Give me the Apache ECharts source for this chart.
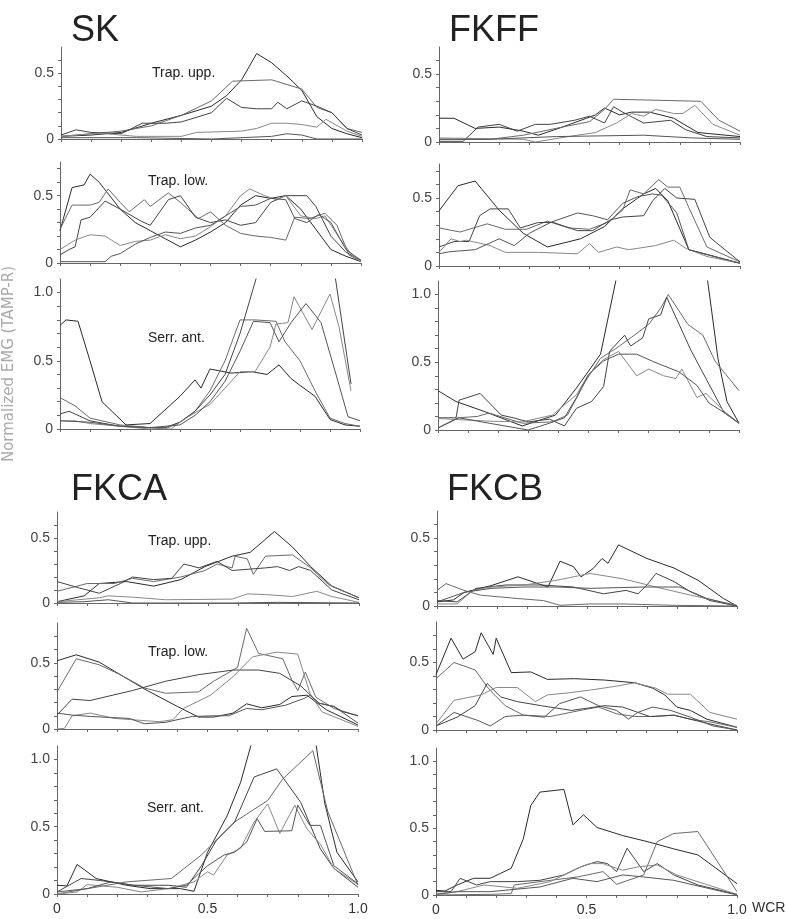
<!DOCTYPE html>
<html>
<head>
<meta charset="utf-8">
<script src="https://cdn.jsdelivr.net/npm/echarts@6/dist/echarts.min.js"></script>
<style>
html,body{margin:0;background:#fff;}
#main{width:786px;height:919px;}
</style>
</head>
<body>
<div id="main"></div>
<script>
// tick labels
const xTickValues = [0, 0.5, 1];
const xTickLabels = ['0', '0.5', '1.0'];
const yTickValues = [0, 0.5, 1];
const yTickLabels = ['0', '0.5', '1.0'];

// SK
const skUpp = [
  [[0,0.02],[0.1,0.03],[0.2,0.05],[0.3,0.12],[0.4,0.18],[0.5,0.25],[0.55,0.33],[0.6,0.45],[0.65,0.65],[0.7,0.58],[0.75,0.48],[0.8,0.37],[0.85,0.17],[0.9,0.08],[0.95,0.04],[1,0.01]],
  [[0,0.02],[0.1,0.04],[0.2,0.06],[0.3,0.1],[0.4,0.18],[0.5,0.29],[0.57,0.44],[0.7,0.45],[0.8,0.38],[0.85,0.24],[0.9,0.2],[0.95,0.08],[1,0.05]],
  [[0,0.03],[0.05,0.07],[0.1,0.05],[0.2,0.04],[0.27,0.12],[0.35,0.12],[0.4,0.13],[0.5,0.2],[0.55,0.31],[0.6,0.24],[0.65,0.23],[0.7,0.23],[0.72,0.28],[0.75,0.23],[0.8,0.29],[0.85,0.25],[0.9,0.2],[0.95,0.08],[1,0.03]],
  [[0,0.02],[0.1,0.04],[0.15,0.04],[0.25,0.02],[0.4,0.02],[0.45,0.05],[0.6,0.06],[0.65,0.08],[0.7,0.12],[0.75,0.12],[0.8,0.11],[0.85,0.09],[0.88,0.15],[0.95,0.06],[1,0.02]],
  [[0,0.01],[0.25,0.01],[0.5,0.0],[0.7,0.02],[0.75,0.04],[0.8,0.03],[0.85,0.0],[1,0.0]]
];
const skLow = [
  [[0,0.24],[0.04,0.56],[0.08,0.58],[0.1,0.66],[0.13,0.6],[0.2,0.4],[0.25,0.3],[0.3,0.24],[0.35,0.18],[0.4,0.12],[0.45,0.17],[0.5,0.23],[0.55,0.3],[0.6,0.43],[0.65,0.5],[0.7,0.48],[0.75,0.5],[0.8,0.4],[0.85,0.25],[0.9,0.1],[0.95,0.05],[1,0.01]],
  [[0,0.25],[0.04,0.43],[0.1,0.43],[0.13,0.45],[0.16,0.55],[0.2,0.45],[0.23,0.38],[0.28,0.47],[0.3,0.42],[0.36,0.52],[0.4,0.45],[0.46,0.33],[0.5,0.38],[0.55,0.28],[0.6,0.22],[0.65,0.2],[0.7,0.19],[0.75,0.17],[0.78,0.34],[0.83,0.33],[0.88,0.37],[0.92,0.28],[0.96,0.06],[1,0.01]],
  [[0,0.06],[0.03,0.1],[0.05,0.12],[0.07,0.32],[0.1,0.34],[0.15,0.46],[0.2,0.4],[0.27,0.31],[0.3,0.28],[0.36,0.47],[0.4,0.5],[0.45,0.34],[0.5,0.3],[0.55,0.32],[0.6,0.28],[0.65,0.3],[0.7,0.45],[0.75,0.5],[0.82,0.5],[0.85,0.42],[0.9,0.2],[0.95,0.08],[1,0.02]],
  [[0,0.1],[0.05,0.17],[0.1,0.21],[0.15,0.2],[0.2,0.13],[0.25,0.16],[0.3,0.17],[0.35,0.21],[0.4,0.18],[0.45,0.2],[0.5,0.27],[0.55,0.35],[0.6,0.5],[0.63,0.55],[0.68,0.5],[0.72,0.47],[0.75,0.5],[0.8,0.35],[0.85,0.33],[0.88,0.35],[0.93,0.18],[0.97,0.06],[1,0.01]],
  [[0,0.01],[0.15,0.01],[0.17,0.05],[0.2,0.07],[0.25,0.14],[0.3,0.19],[0.35,0.23],[0.4,0.22],[0.45,0.26],[0.5,0.28],[0.55,0.35],[0.6,0.42],[0.65,0.43],[0.7,0.48],[0.75,0.47],[0.78,0.33],[0.82,0.3],[0.86,0.36],[0.9,0.3],[0.95,0.1],[1,0.02]]
];
const skSerr = [
  [[0,0.76],[0.02,0.8],[0.06,0.79],[0.1,0.5],[0.14,0.2],[0.22,0.03],[0.3,0.04],[0.35,0.14],[0.4,0.24],[0.45,0.36],[0.47,0.3],[0.5,0.44],[0.57,0.41],[0.64,0.42],[0.69,0.4],[0.73,0.47],[0.77,0.37],[0.8,0.32],[0.85,0.24],[0.9,0.07],[0.95,0.03],[1,0.02]],
  [[0,0.23],[0.05,0.17],[0.1,0.08],[0.2,0.03],[0.3,0.01],[0.35,0.0],[0.4,0.05],[0.45,0.13],[0.5,0.28],[0.55,0.5],[0.6,0.8],[0.65,0.8],[0.72,0.79],[0.75,0.64],[0.8,0.5],[0.85,0.28],[0.9,0.08],[0.95,0.04],[1,0.02]],
  [[0,0.11],[0.03,0.13],[0.1,0.06],[0.2,0.02],[0.3,0.01],[0.35,0.01],[0.4,0.05],[0.45,0.13],[0.5,0.25],[0.55,0.4],[0.6,0.7],[0.66,1.15],[0.79,1.6],[0.915,1.15],[0.97,0.33]],
  [[0,0.06],[0.05,0.06],[0.1,0.04],[0.2,0.02],[0.3,0.0],[0.37,0.0],[0.4,0.05],[0.45,0.12],[0.5,0.18],[0.55,0.3],[0.6,0.42],[0.65,0.42],[0.7,0.6],[0.72,0.77],[0.76,0.78],[0.78,0.97],[0.84,0.73],[0.9,0.99],[0.93,0.75],[0.97,0.28]],
  [[0,0.06],[0.1,0.05],[0.2,0.02],[0.3,0.01],[0.4,0.03],[0.45,0.1],[0.5,0.2],[0.55,0.35],[0.6,0.57],[0.645,0.79],[0.7,0.78],[0.73,0.64],[0.77,0.78],[0.82,0.92],[0.87,0.78],[0.92,0.4],[0.96,0.09],[1,0.06]]
];

// FKFF
const fkffUpp = [
  [[0,0.175],[0.05,0.175],[0.12,0.1],[0.2,0.11],[0.28,0.08],[0.33,0.05],[0.41,0.11],[0.49,0.175],[0.52,0.2],[0.55,0.25],[0.6,0.2],[0.64,0.22],[0.7,0.22],[0.78,0.175],[0.86,0.07],[1,0.04]],
  [[0,0.02],[0.17,0.02],[0.28,0.05],[0.41,0.11],[0.5,0.15],[0.55,0.24],[0.58,0.315],[0.87,0.3],[0.93,0.16],[1,0.08]],
  [[0,0.005],[0.08,0.005],[0.13,0.11],[0.2,0.13],[0.26,0.08],[0.32,0.13],[0.37,0.13],[0.45,0.16],[0.5,0.19],[0.55,0.14],[0.58,0.26],[0.61,0.22],[0.68,0.14],[0.77,0.16],[0.82,0.09],[0.89,0.04],[1,0.03]],
  [[0,0.03],[0.28,0.02],[0.32,0.0],[0.43,0.04],[0.52,0.07],[0.59,0.14],[0.64,0.21],[0.68,0.19],[0.72,0.24],[0.78,0.21],[0.81,0.21],[0.85,0.27],[0.91,0.13],[1,0.05]],
  [[0,0.02],[0.17,0.02],[0.39,0.04],[0.68,0.05],[0.84,0.03],[1,0.02]]
];
const fkffLow = [
  [[0,0.405],[0.063,0.59],[0.12,0.625],[0.2,0.41],[0.28,0.24],[0.36,0.14],[0.47,0.2],[0.55,0.29],[0.61,0.42],[0.68,0.53],[0.72,0.57],[0.76,0.48],[0.83,0.12],[1,0.02]],
  [[0,0.28],[0.07,0.25],[0.16,0.31],[0.22,0.27],[0.29,0.27],[0.36,0.33],[0.43,0.28],[0.5,0.27],[0.56,0.32],[0.61,0.41],[0.635,0.56],[0.68,0.53],[0.73,0.635],[0.76,0.58],[0.8,0.58],[0.83,0.43],[0.89,0.14],[1,0.03]],
  [[0,0.14],[0.05,0.18],[0.1,0.18],[0.135,0.37],[0.17,0.42],[0.23,0.42],[0.27,0.28],[0.33,0.32],[0.38,0.32],[0.46,0.26],[0.51,0.26],[0.57,0.34],[0.61,0.36],[0.68,0.37],[0.71,0.48],[0.75,0.57],[0.79,0.5],[0.85,0.49],[0.9,0.21],[1,0.03]],
  [[0,0.1],[0.04,0.2],[0.07,0.18],[0.09,0.19],[0.17,0.15],[0.22,0.1],[0.33,0.1],[0.46,0.09],[0.5,0.165],[0.53,0.1],[0.59,0.14],[0.63,0.12],[0.72,0.15],[0.78,0.19],[0.82,0.13],[0.89,0.07],[1,0.02]],
  [[0,0.09],[0.035,0.105],[0.12,0.12],[0.2,0.2],[0.25,0.15],[0.3,0.24],[0.37,0.32],[0.46,0.39],[0.51,0.37],[0.56,0.34],[0.61,0.46],[0.66,0.51],[0.71,0.53],[0.74,0.52],[0.79,0.39],[0.83,0.12],[1,0.02]]
];
const fkffSerr = [
  [[0,0.29],[0.06,0.21],[0.15,0.14],[0.28,0.03],[0.39,0.11],[0.46,0.31],[0.54,0.56],[0.6,1.2],[0.75,1.8],[0.89,1.2],[0.93,0.53],[0.96,0.21],[1,0.05]],
  [[0,0.015],[0.066,0.09],[0.13,0.1],[0.17,0.125],[0.28,0.05],[0.38,0.06],[0.43,0.11],[0.49,0.36],[0.54,0.53],[0.59,0.6],[0.64,0.68],[0.7,0.78],[0.74,0.9],[0.765,1.0],[0.83,0.78],[0.88,0.7],[0.92,0.51],[1,0.29]],
  [[0,0.09],[0.06,0.09],[0.07,0.22],[0.14,0.27],[0.21,0.11],[0.25,0.09],[0.3,0.06],[0.37,0.08],[0.42,0.03],[0.46,0.16],[0.51,0.21],[0.55,0.32],[0.57,0.58],[0.62,0.7],[0.64,0.62],[0.68,0.68],[0.7,0.82],[0.74,0.85],[0.76,0.98],[0.84,0.59],[0.95,0.13],[1,0.05]],
  [[0,0.085],[0.17,0.065],[0.28,0.06],[0.38,0.11],[0.46,0.26],[0.5,0.41],[0.55,0.52],[0.6,0.58],[0.66,0.4],[0.7,0.45],[0.75,0.4],[0.79,0.38],[0.81,0.45],[0.86,0.24],[0.89,0.27],[0.95,0.14],[1,0.05]],
  [[0,0.015],[0.07,0.09],[0.17,0.05],[0.3,0.0],[0.37,0.05],[0.42,0.09],[0.46,0.24],[0.5,0.41],[0.55,0.51],[0.6,0.56],[0.66,0.56],[0.72,0.5],[0.8,0.43],[0.86,0.33],[0.9,0.2],[0.95,0.13],[1,0.05]]
];

// FKCA
const fkcaUpp = [
  [[0,0.01],[0.09,0.055],[0.14,0.15],[0.23,0.165],[0.32,0.13],[0.41,0.18],[0.49,0.28],[0.58,0.36],[0.64,0.39],[0.72,0.55],[0.78,0.43],[0.84,0.28],[0.91,0.13],[1,0.04]],
  [[0,0.09],[0.1,0.15],[0.19,0.15],[0.25,0.19],[0.32,0.165],[0.41,0.2],[0.49,0.25],[0.53,0.3],[0.58,0.27],[0.59,0.36],[0.63,0.34],[0.65,0.22],[0.69,0.36],[0.78,0.37],[0.84,0.27],[0.9,0.14],[1,0.04]],
  [[0,0.165],[0.075,0.115],[0.14,0.075],[0.21,0.15],[0.25,0.2],[0.32,0.18],[0.38,0.19],[0.42,0.3],[0.47,0.27],[0.53,0.32],[0.58,0.25],[0.69,0.27],[0.73,0.28],[0.77,0.25],[0.8,0.28],[0.84,0.25],[0.91,0.1],[1,0.025]],
  [[0,0.01],[0.14,0.04],[0.17,0.055],[0.25,0.045],[0.36,0.025],[0.58,0.03],[0.63,0.07],[0.69,0.065],[0.78,0.05],[0.86,0.09],[0.91,0.05],[1,0.005]],
  [[0,0.005],[0.09,0.01],[0.17,0.025],[0.25,0.0],[0.58,0.0],[0.73,0.005],[1,0.0]]
];
const fkcaLow = [
  [[0,0.515],[0.064,0.56],[0.14,0.505],[0.21,0.41],[0.3,0.29],[0.4,0.17],[0.47,0.09],[0.52,0.09],[0.585,0.12],[0.63,0.19],[0.68,0.16],[0.74,0.185],[0.78,0.245],[0.83,0.255],[0.895,0.145],[1,0.03]],
  [[0,0.28],[0.064,0.53],[0.14,0.485],[0.21,0.41],[0.29,0.31],[0.36,0.27],[0.47,0.28],[0.52,0.36],[0.6,0.465],[0.63,0.76],[0.67,0.57],[0.75,0.53],[0.78,0.37],[0.8,0.29],[0.825,0.43],[0.86,0.24],[0.92,0.155],[1,0.1]],
  [[0,0.105],[0.05,0.225],[0.11,0.215],[0.25,0.29],[0.36,0.36],[0.47,0.41],[0.585,0.445],[0.67,0.445],[0.74,0.42],[0.81,0.325],[0.87,0.195],[0.92,0.17],[0.95,0.13],[1,0.1]],
  [[0,0.0],[0.025,0.005],[0.05,0.1],[0.11,0.12],[0.19,0.08],[0.25,0.07],[0.34,0.055],[0.385,0.07],[0.42,0.155],[0.51,0.255],[0.585,0.395],[0.65,0.545],[0.73,0.58],[0.8,0.565],[0.84,0.27],[0.88,0.13],[1,0.02]],
  [[0,0.12],[0.05,0.105],[0.11,0.095],[0.15,0.09],[0.24,0.08],[0.29,0.04],[0.36,0.05],[0.45,0.095],[0.53,0.1],[0.57,0.1],[0.63,0.155],[0.68,0.145],[0.76,0.18],[0.82,0.23],[0.84,0.255],[0.87,0.195],[0.92,0.17],[1,0.045]]
];
const fkcaSerr = [
  [[0,0.065],[0.033,0.06],[0.067,0.22],[0.13,0.115],[0.23,0.065],[0.31,0.04],[0.41,0.04],[0.455,0.02],[0.5,0.31],[0.565,0.58],[0.61,0.83],[0.65,1.15],[0.75,1.6],[0.86,1.12],[0.89,0.67],[0.93,0.31],[1,0.09]],
  [[0,0.0],[0.23,0.09],[0.38,0.115],[0.48,0.29],[0.59,0.535],[0.7,0.695],[0.75,0.855],[0.85,1.065],[0.9,0.61],[1,0.065]],
  [[0,0.015],[0.08,0.115],[0.145,0.1],[0.255,0.065],[0.37,0.065],[0.43,0.05],[0.48,0.21],[0.53,0.4],[0.59,0.535],[0.655,0.87],[0.73,0.93],[0.81,0.68],[0.875,0.335],[0.92,0.19],[1,0.05]],
  [[0,0.0],[0.067,0.015],[0.1,0.07],[0.2,0.05],[0.28,0.015],[0.37,0.04],[0.455,0.09],[0.5,0.165],[0.52,0.14],[0.565,0.29],[0.61,0.34],[0.655,0.535],[0.7,0.67],[0.74,0.45],[0.79,0.66],[0.83,0.485],[0.875,0.37],[0.92,0.19],[1,0.07]],
  [[0,0.015],[0.1,0.04],[0.18,0.09],[0.255,0.065],[0.37,0.04],[0.43,0.065],[0.5,0.21],[0.555,0.29],[0.59,0.31],[0.63,0.385],[0.665,0.56],[0.69,0.465],[0.78,0.47],[0.8,0.66],[0.84,0.51],[0.875,0.51],[0.92,0.21],[1,0.075]]
];

// FKCB
const fkcbUpp = [
  [[0,0.03],[0.055,0.045],[0.09,0.1],[0.18,0.15],[0.27,0.215],[0.37,0.14],[0.41,0.33],[0.455,0.29],[0.48,0.215],[0.52,0.275],[0.55,0.35],[0.57,0.315],[0.605,0.45],[0.7,0.35],[0.79,0.28],[0.87,0.19],[0.955,0.055],[1,0.0]],
  [[0,0.115],[0.03,0.165],[0.09,0.115],[0.145,0.08],[0.27,0.055],[0.355,0.04],[0.41,0.005],[0.51,0.015],[0.62,0.015],[0.79,0.005],[1,0.0]],
  [[0,0.04],[0.067,0.03],[0.13,0.13],[0.23,0.155],[0.345,0.155],[0.455,0.14],[0.555,0.09],[0.63,0.115],[0.67,0.09],[0.7,0.155],[0.73,0.24],[0.79,0.18],[0.845,0.105],[0.91,0.04],[1,0.0]],
  [[0,0.015],[0.067,0.015],[0.12,0.115],[0.18,0.14],[0.29,0.155],[0.4,0.19],[0.51,0.24],[0.62,0.2],[0.73,0.14],[0.845,0.08],[1,0.005]],
  [[0,0.03],[0.09,0.1],[0.18,0.13],[0.29,0.14],[0.4,0.14],[0.51,0.13],[0.69,0.14],[0.81,0.14],[0.9,0.055],[1,0.0]]
];
const fkcbLow = [
  [[0,0.41],[0.05,0.68],[0.09,0.525],[0.13,0.58],[0.15,0.72],[0.19,0.56],[0.2,0.68],[0.25,0.425],[0.315,0.43],[0.37,0.375],[0.46,0.38],[0.56,0.37],[0.66,0.35],[0.72,0.31],[0.76,0.26],[0.8,0.17],[0.845,0.145],[0.9,0.08],[1,0.02]],
  [[0,0.38],[0.06,0.5],[0.13,0.445],[0.17,0.32],[0.19,0.27],[0.23,0.18],[0.29,0.11],[0.38,0.1],[0.49,0.15],[0.54,0.17],[0.6,0.12],[0.66,0.1],[0.73,0.1],[0.79,0.11],[0.845,0.08],[0.91,0.06],[1,0.02]],
  [[0,0.03],[0.07,0.095],[0.13,0.18],[0.17,0.345],[0.215,0.245],[0.27,0.21],[0.35,0.18],[0.45,0.145],[0.56,0.18],[0.62,0.17],[0.71,0.1],[0.79,0.11],[0.9,0.05],[1,0.0]],
  [[0,0.045],[0.06,0.22],[0.15,0.26],[0.2,0.315],[0.27,0.315],[0.33,0.21],[0.37,0.26],[0.44,0.275],[0.51,0.295],[0.6,0.325],[0.66,0.35],[0.73,0.31],[0.77,0.265],[0.845,0.265],[0.91,0.13],[1,0.08]],
  [[0,0.03],[0.06,0.13],[0.14,0.07],[0.18,0.03],[0.23,0.1],[0.29,0.11],[0.36,0.095],[0.41,0.195],[0.48,0.245],[0.54,0.18],[0.6,0.145],[0.64,0.08],[0.67,0.13],[0.72,0.17],[0.78,0.145],[0.845,0.095],[0.92,0.03],[1,0.0]]
];
const fkcbSerr = [
  [[0,0.035],[0.03,0.03],[0.07,0.075],[0.125,0.125],[0.18,0.125],[0.25,0.2],[0.29,0.42],[0.315,0.67],[0.345,0.77],[0.425,0.79],[0.455,0.525],[0.49,0.6],[0.535,0.505],[0.62,0.445],[0.71,0.395],[0.79,0.345],[0.87,0.3],[1,0.085]],
  [[0,0.0],[0.18,0.005],[0.25,0.01],[0.26,0.075],[0.345,0.1],[0.47,0.135],[0.555,0.175],[0.6,0.08],[0.69,0.15],[0.735,0.4],[0.79,0.46],[0.87,0.475],[1,0.025]],
  [[0,0.025],[0.05,0.025],[0.08,0.125],[0.135,0.075],[0.18,0.1],[0.27,0.1],[0.345,0.11],[0.425,0.15],[0.48,0.21],[0.535,0.25],[0.57,0.235],[0.6,0.175],[0.635,0.35],[0.69,0.175],[0.735,0.235],[0.79,0.15],[0.87,0.075],[1,0.005]],
  [[0,0.005],[0.07,0.025],[0.16,0.075],[0.27,0.05],[0.38,0.1],[0.47,0.2],[0.51,0.235],[0.555,0.235],[0.62,0.185],[0.67,0.21],[0.735,0.225],[0.8,0.15],[0.89,0.085],[1,0.005]],
  [[0,0.005],[0.07,0.025],[0.18,0.025],[0.345,0.06],[0.455,0.125],[0.535,0.1],[0.62,0.15],[0.69,0.135],[0.79,0.11],[1,0.0]]
];

const lineColors = ['#2a2a2a', '#6a6a6a', '#444', '#888', '#555'];

const panels = [
  { lines: skUpp,    box: [61, 47, 301, 92],   max: 0.7,  bottom: false },
  { lines: skLow,    box: [60, 162, 301, 101], max: 0.75, bottom: false },
  { lines: skSerr,   box: [60, 279, 300, 150], max: 1.1,  bottom: false },
  { lines: fkffUpp,  box: [439, 47, 301, 95],  max: 0.7,  bottom: false },
  { lines: fkffLow,  box: [439, 164, 301, 102], max: 0.75, bottom: false },
  { lines: fkffSerr, box: [438, 281, 301, 149], max: 1.1, bottom: false },
  { lines: fkcaUpp,  box: [57, 512, 302, 91],  max: 0.7,  bottom: false },
  { lines: fkcaLow,  box: [57, 623, 301, 106], max: 0.8,  bottom: false },
  { lines: fkcaSerr, box: [57, 746, 301, 148], max: 1.1,  bottom: true },
  { lines: fkcbUpp,  box: [437, 511, 300, 95], max: 0.7,  bottom: false },
  { lines: fkcbLow,  box: [436, 622, 301, 108], max: 0.8, bottom: false },
  { lines: fkcbSerr, box: [436, 748, 301, 147], max: 1.1, bottom: true }
];

function pick(vals, labels) {
  return function (v) {
    const k = vals.findIndex(t => Math.abs(t - v) < 1e-6);
    return k < 0 ? '' : labels[k];
  };
}

const grid = [], xAxis = [], yAxis = [], series = [];
panels.forEach((p, i) => {
  grid.push({ left: p.box[0], top: p.box[1], width: p.box[2], height: p.box[3] });
  xAxis.push({
    type: 'value', gridIndex: i, min: 0, max: 1, interval: 0.1,
    axisLine: { show: true, lineStyle: { color: '#666', width: 1 } },
    axisTick: { show: true, length: 3, lineStyle: { color: '#666' } },
    splitLine: { show: false },
    axisLabel: { show: p.bottom, formatter: pick(xTickValues, xTickLabels), color: '#333', fontSize: 14, margin: 8, fontFamily: 'Liberation Sans' }
  });
  yAxis.push({
    type: 'value', gridIndex: i, min: 0, max: p.max, interval: 0.1,
    axisLine: { show: true, lineStyle: { color: '#666', width: 1 } },
    axisTick: { show: true, length: 3, lineStyle: { color: '#666' } },
    splitLine: { show: false },
    axisLabel: { formatter: pick(yTickValues, yTickLabels), color: '#444', fontSize: 14, margin: 7, fontFamily: 'Liberation Sans', showMaxLabel: false }
  });
  p.lines.forEach((ln, j) => {
    series.push({
      type: 'line', xAxisIndex: i, yAxisIndex: i, data: ln, symbol: 'none',
      clip: true, silent: true,
      lineStyle: { width: 1, color: lineColors[j % lineColors.length] }
    });
  });
});

function txt(x, y, s, size, fill) {
  return {
    type: 'text', x: x, y: y,
    style: { text: s, fontSize: size, fontFamily: 'Liberation Sans', fill: fill || '#222', verticalAlign: 'middle' }
  };
}

const graphic = [
  txt(71, 31, 'SK', 36),
  txt(449, 31, 'FKFF', 36),
  txt(71, 490, 'FKCA', 36),
  txt(447, 490, 'FKCB', 36),
  txt(152, 73, 'Trap. upp.', 14),
  txt(148, 181, 'Trap. low.', 14),
  txt(148, 338, 'Serr. ant.', 14),
  txt(148, 541, 'Trap. upp.', 14),
  txt(148, 652, 'Trap. low.', 14),
  txt(147, 808, 'Serr. ant.', 14),
  txt(752, 908, 'WCR', 14, '#333'),
  {
    type: 'text', x: 9, y: 364, rotation: Math.PI / 2,
    style: { text: 'Normalized EMG (TAMP-R)', fontSize: 15, fontFamily: 'DejaVu Sans', fill: '#aaa', align: 'center', verticalAlign: 'middle' }
  }
];

const chart = echarts.init(document.getElementById('main'));
chart.setOption({
  animation: false,
  backgroundColor: '#fff',
  grid: grid,
  xAxis: xAxis,
  yAxis: yAxis,
  series: series,
  graphic: graphic
});
</script>
</body>
</html>
